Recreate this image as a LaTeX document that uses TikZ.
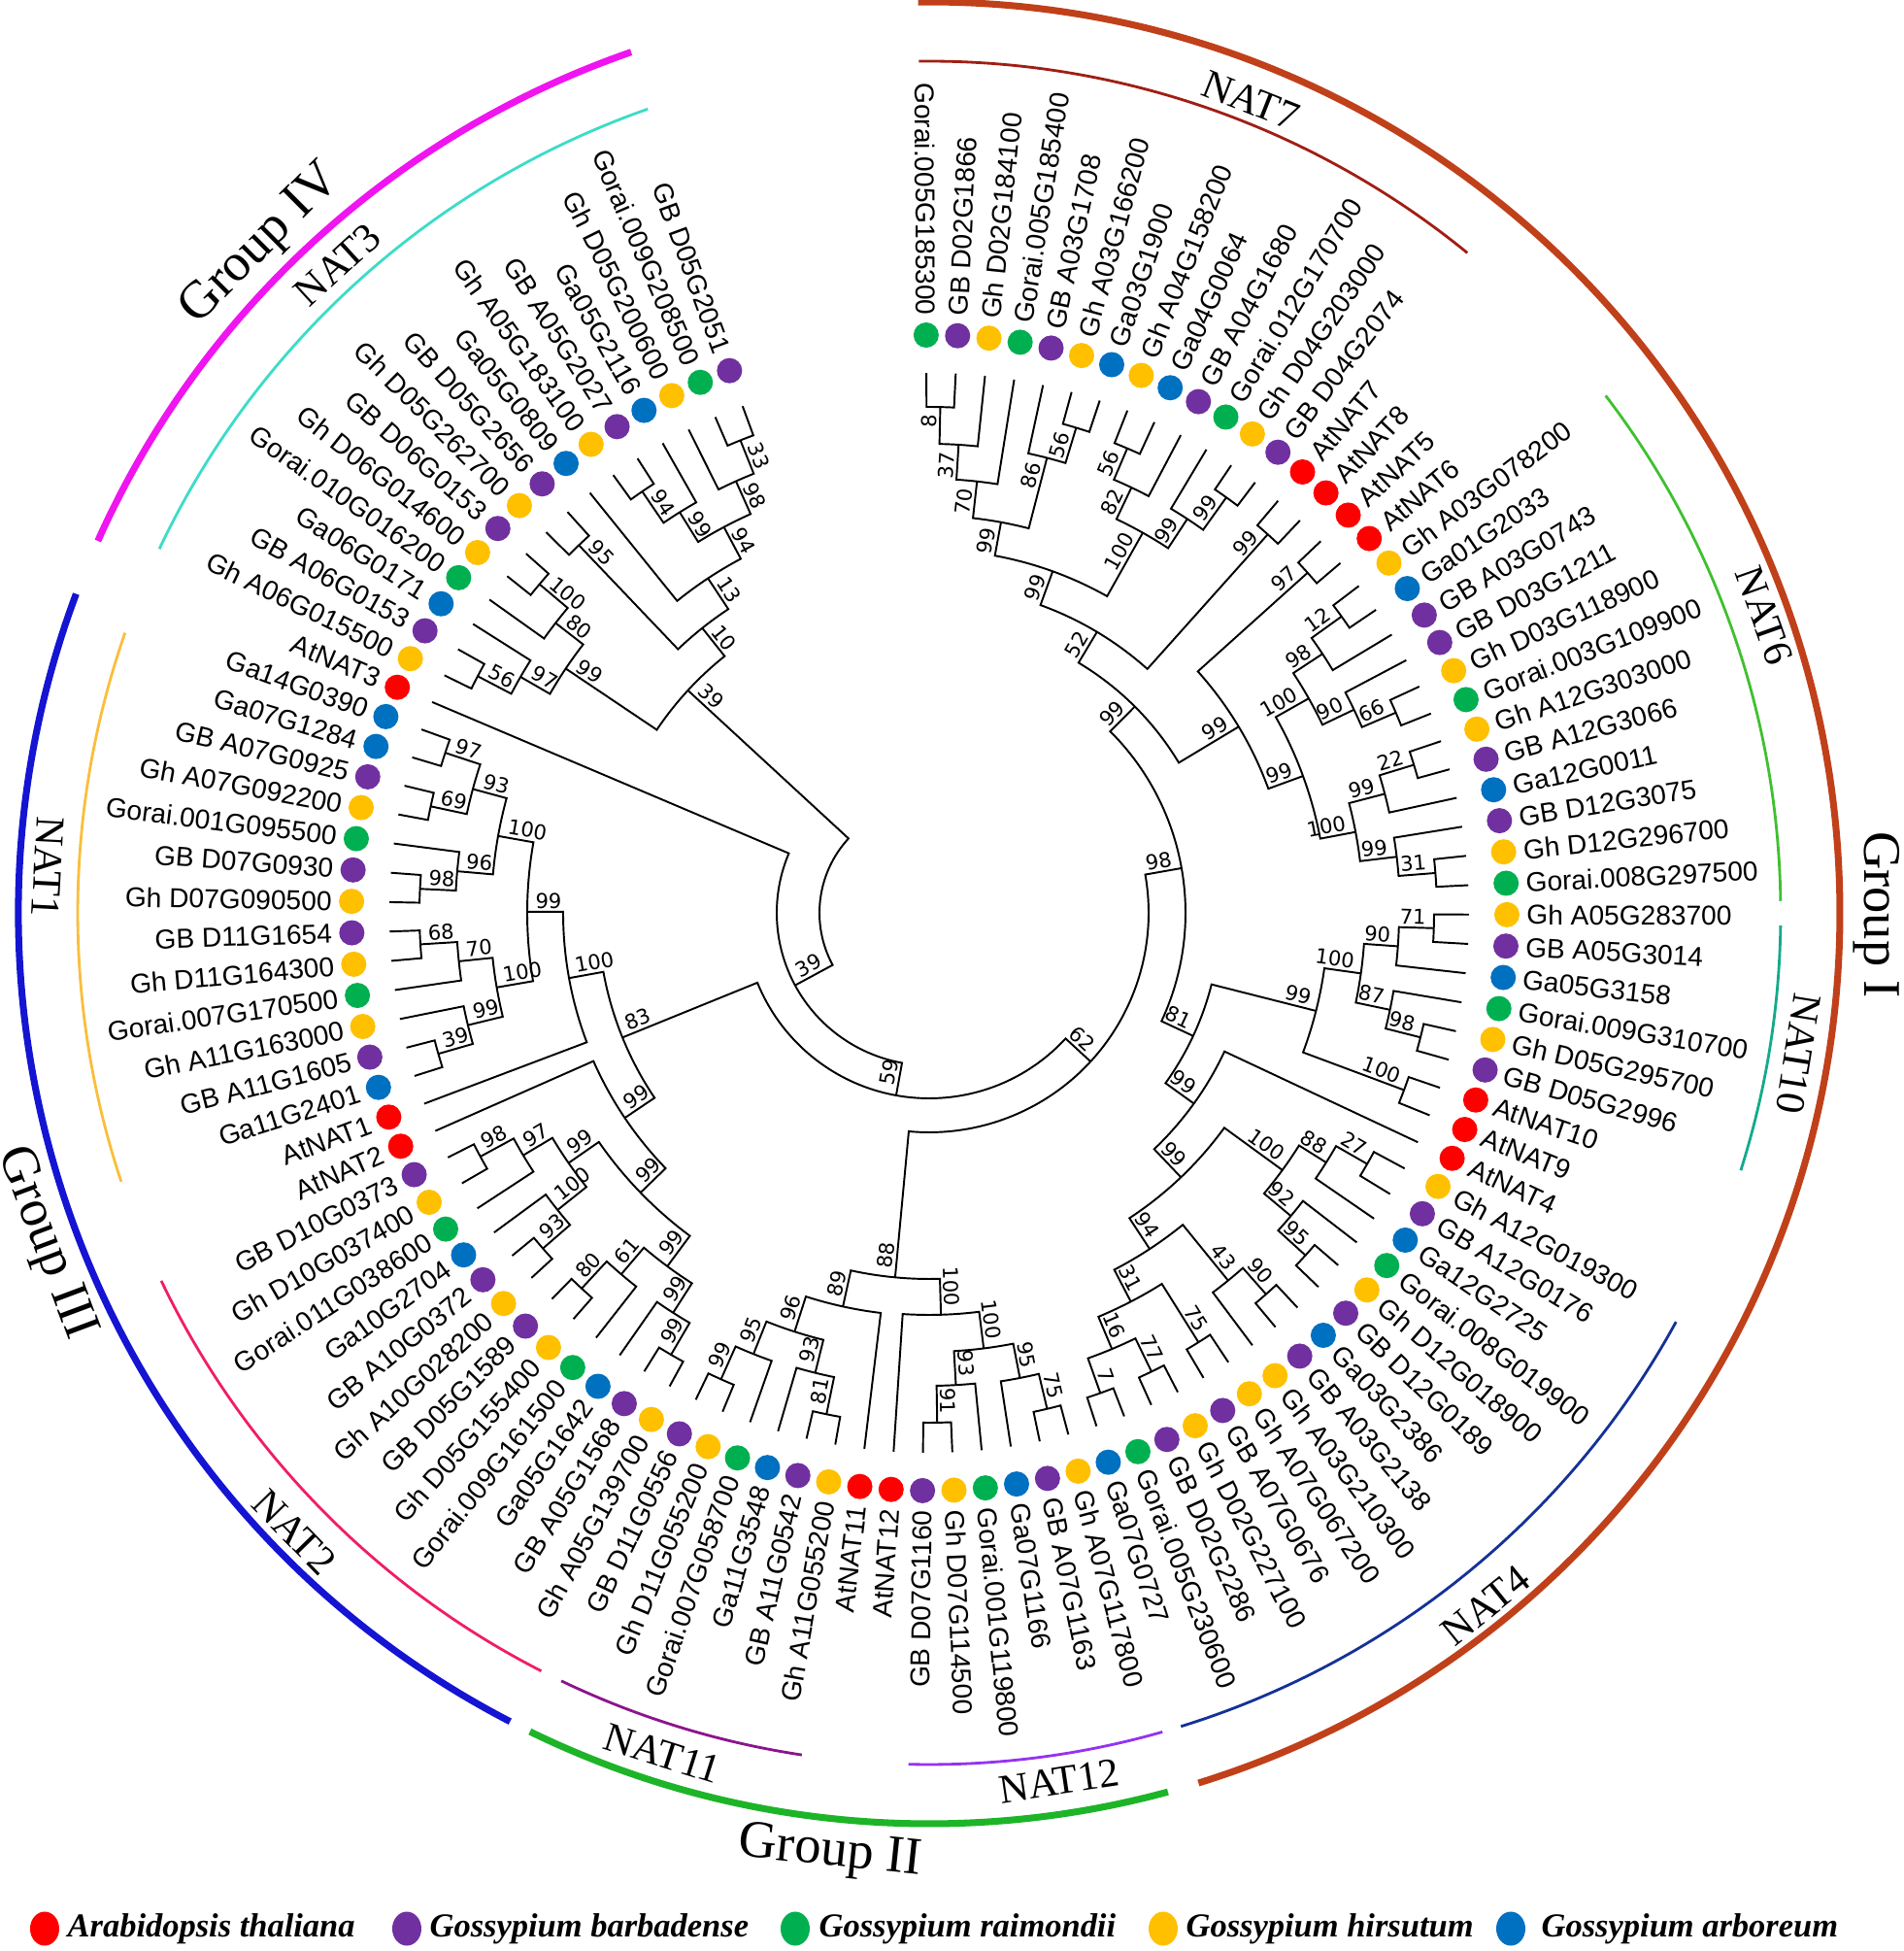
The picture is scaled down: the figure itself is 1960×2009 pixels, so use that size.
\documentclass[tikz,border=0pt]{standalone}
\usepackage{fontspec}
\usepackage{xcolor}
\setmainfont{Liberation Serif}
\setsansfont{Liberation Sans}
\newfontfamily\bootfont{DejaVu Sans}
\usetikzlibrary{shapes.geometric}

% species colours
\definecolor{at}{HTML}{FF0000}
\definecolor{gb}{HTML}{7030A0}
\definecolor{gr}{HTML}{00B050}
\definecolor{gh}{HTML}{FFC000}
\definecolor{ga}{HTML}{0070C0}
% group and subfamily colours
\definecolor{grpone}{HTML}{C0401A}
\definecolor{grptwo}{HTML}{1EB428}
\definecolor{grpthree}{HTML}{1414D2}
\definecolor{grpfour}{HTML}{F014F0}
\definecolor{natseven}{HTML}{A01E14}
\definecolor{natsix}{HTML}{40C030}
\definecolor{natten}{HTML}{14AA8C}
\definecolor{natfour}{HTML}{143296}
\definecolor{nattwelve}{HTML}{9632F0}
\definecolor{nateleven}{HTML}{8C148C}
\definecolor{nattwo}{HTML}{F01E64}
\definecolor{natone}{HTML}{FABE3C}
\definecolor{natthree}{HTML}{3CDCC8}

% a leaf sits at a fixed angle, its branch ends at radius 556
\newcommand{\setleaf}[1]{%
  \pgfmathsetmacro{\leafang}{90.3-3.12*(#1-1)}%
  \expandafter\xdef\csname ang@L#1\endcsname{\leafang}%
  \expandafter\xdef\csname rad@L#1\endcsname{556}}

% clade: name, radius, first child, second child, bootstrap
\newcommand{\clade}[5]{%
  \edef\angA{\csname ang@#3\endcsname}\edef\radA{\csname rad@#3\endcsname}%
  \edef\angB{\csname ang@#4\endcsname}\edef\radB{\csname rad@#4\endcsname}%
  \pgfmathsetmacro{\angM}{(\angA+\angB)/2}%
  \pgfmathsetmacro{\radL}{#2-5}%
  \pgfmathsetmacro{\cosM}{cos(\angM)}%
  \draw[branch] (\angA:\radA) -- (\angA:#2) arc[start angle=\angA, end angle=\angB, radius=#2] -- (\angB:\radB);%
  \ifdim\cosM pt>0pt
    \node[boot, rotate=\angM, anchor=south east] (b#1) at (\angM:\radL) {#5};%
  \else
    \node[boot, rotate=\angM+180, anchor=south west] (b#1) at (\angM:\radL) {#5};%
  \fi
  \expandafter\xdef\csname ang@#1\endcsname{\angM}%
  \expandafter\xdef\csname rad@#1\endcsname{#2}}

\begin{document}
\begin{tikzpicture}[x=0.01cm, y=0.01cm,
    branch/.style={line width=0.55pt},
    boot/.style={font=\bootfont\fontsize{6}{7}\selectfont, inner sep=0.8pt},
    leafdot/.style={circle, inner sep=0pt, minimum size=0.26cm},
    leaflabel/.style={font=\sffamily\fontsize{8}{9}\selectfont, inner sep=0.5pt},
    grouparc/.style={line width=2pt},
    natarc/.style={line width=0.8pt},
    grouplabel/.style={font=\fontsize{15.5}{18}\selectfont, inner sep=0pt},
    natlabel/.style={font=\fontsize{12}{14}\selectfont, inner sep=0pt},
    legdot/.style={ellipse, inner sep=0pt, minimum width=0.30cm, minimum height=0.35cm},
    legtext/.style={font=\bfseries\itshape\fontsize{9.8}{12}\selectfont, inner sep=0pt, anchor=west}]
    \useasboundingbox (-957,-1069) rectangle (1003,940);

    % Leaves: dots and names
    \foreach \i/\nm/\col in {1/Gorai.005G185300/gr, 2/GB D02G1866/gb, 3/Gh D02G184100/gh,
        4/Gorai.005G185400/gr, 5/GB A03G1708/gb, 6/Gh A03G166200/gh, 7/Ga03G1900/ga,
        8/Gh A04G158200/gh, 9/Ga04G0064/ga, 10/GB A04G1680/gb, 11/Gorai.012G170700/gr,
        12/Gh D04G203000/gh, 13/GB D04G2074/gb, 14/AtNAT7/at, 15/AtNAT8/at, 16/AtNAT5/at,
        17/AtNAT6/at, 18/Gh A03G078200/gh, 19/Ga01G2033/ga, 20/GB A03G0743/gb,
        21/GB D03G1211/gb, 22/Gh D03G118900/gh, 23/Gorai.003G109900/gr, 24/Gh A12G303000/gh,
        25/GB A12G3066/gb, 26/Ga12G0011/ga, 27/GB D12G3075/gb, 28/Gh D12G296700/gh,
        29/Gorai.008G297500/gr, 30/Gh A05G283700/gh, 31/GB A05G3014/gb, 32/Ga05G3158/ga,
        33/Gorai.009G310700/gr, 34/Gh D05G295700/gh, 35/GB D05G2996/gb, 36/AtNAT10/at,
        37/AtNAT9/at, 38/AtNAT4/at, 39/Gh A12G019300/gh, 40/GB A12G0176/gb, 41/Ga12G2725/ga,
        42/Gorai.008G019900/gr, 43/Gh D12G018900/gh, 44/GB D12G0189/gb, 45/Ga03G2386/ga,
        46/GB A03G2138/gb, 47/Gh A03G210300/gh, 48/Gh A07G067200/gh, 49/GB A07G0676/gb,
        50/Gh D02G227100/gh, 51/GB D02G2286/gb, 52/Gorai.005G230600/gr, 53/Ga07G0727/ga,
        54/Gh A07G117800/gh, 55/GB A07G1163/gb, 56/Ga07G1166/ga, 57/Gorai.001G119800/gr,
        58/Gh D07G114500/gh, 59/GB D07G1160/gb, 60/AtNAT12/at, 61/AtNAT11/at,
        62/Gh A11G055200/gh, 63/GB A11G0542/gb, 64/Ga11G3548/ga, 65/Gorai.007G058700/gr,
        66/Gh D11G055200/gh, 67/GB D11G0556/gb, 68/Gh A05G139700/gh, 69/GB A05G1568/gb,
        70/Ga05G1642/ga, 71/Gorai.009G161500/gr, 72/Gh D05G155400/gh, 73/GB D05G1589/gb,
        74/Gh A10G028200/gh, 75/GB A10G0372/gb, 76/Ga10G2704/ga, 77/Gorai.011G038600/gr,
        78/Gh D10G037400/gh, 79/GB D10G0373/gb, 80/AtNAT2/at, 81/AtNAT1/at, 82/Ga11G2401/ga,
        83/GB A11G1605/gb, 84/Gh A11G163000/gh, 85/Gorai.007G170500/gr, 86/Gh D11G164300/gh,
        87/GB D11G1654/gb, 88/Gh D07G090500/gh, 89/GB D07G0930/gb, 90/Gorai.001G095500/gr,
        91/Gh A07G092200/gh, 92/GB A07G0925/gb, 93/Ga07G1284/ga, 94/Ga14G0390/ga,
        95/AtNAT3/at, 96/Gh A06G015500/gh, 97/GB A06G0153/gb, 98/Ga06G0171/ga,
        99/Gorai.010G016200/gr, 100/Gh D06G014600/gh, 101/GB D06G0153/gb,
        102/Gh D05G262700/gh, 103/GB D05G2656/gb, 104/Ga05G0809/ga, 105/Gh A05G183100/gh,
        106/GB A05G2027/gb, 107/Ga05G2116/ga, 108/Gh D05G200600/gh,
        109/Gorai.009G208500/gr, 110/GB D05G2051/gb} {
        \setleaf{\i}
        \pgfmathsetmacro{\la}{90.3-3.12*(\i-1)}
        \pgfmathsetmacro{\lc}{cos(\la)}
        \node[leafdot, fill=\col] (dot\i) at (\la:595) {};
        \ifdim\lc pt>0pt
            \node[leaflabel, rotate=\la, anchor=west] (lab\i) at (\la:613) {\nm};
        \else
            \node[leaflabel, rotate=\la+180, anchor=east] (lab\i) at (\la:613) {\nm};
        \fi
    }

    % Group I
    \clade{a8}{521}{L1}{L2}{8}
    \clade{a37}{483}{a8}{L3}{37}
    \clade{a70}{447}{a37}{L4}{70}
    \clade{a56}{522}{L6}{L7}{56}
    \clade{a86}{484}{L5}{a56}{86}
    \clade{a99}{409}{a70}{a86}{99}
    \clade{b56}{520}{L8}{L9}{56}
    \clade{b82}{485}{b56}{L10}{82}
    \clade{b99}{526}{L12}{L13}{99}
    \clade{c99}{485}{L11}{b99}{99}
    \clade{b100}{449}{b82}{c99}{100}
    \clade{d99}{374}{a99}{b100}{99}
    \clade{e99}{523}{L14}{L15}{99}
    \clade{a52}{337}{d99}{e99}{52}
    \clade{a12}{523}{L18}{L19}{12}
    \clade{a98}{485}{a12}{L20}{98}
    \clade{a66}{523}{L22}{L23}{66}
    \clade{a90}{485}{L21}{a66}{90}
    \clade{c100}{449}{a98}{a90}{100}
    \clade{a22}{522}{L24}{L25}{22}
    \clade{f99}{485}{a22}{L26}{99}
    \clade{a31}{523}{L28}{L29}{31}
    \clade{g99}{485}{L27}{a31}{99}
    \clade{d100}{447}{f99}{g99}{100}
    \clade{h99}{410}{c100}{d100}{99}
    \clade{a97}{524}{L16}{L17}{97}
    \clade{i99}{372}{a97}{h99}{99}
    \clade{j99}{300}{a52}{i99}{99}
    \clade{a71}{520}{L30}{L31}{71}
    \clade{b90}{484}{a71}{L32}{90}
    \clade{b98}{522}{L34}{L35}{98}
    \clade{a87}{485}{L33}{b98}{87}
    \clade{e100}{449}{b90}{a87}{100}
    \clade{f100}{522}{L36}{L37}{100}
    \clade{k99}{411}{e100}{f100}{99}
    \clade{a27}{520}{L39}{L40}{27}
    \clade{a88}{483}{a27}{L41}{88}
    \clade{a95}{524}{L43}{L44}{95}
    \clade{a92}{486}{L42}{a95}{92}
    \clade{g100}{450}{a88}{a92}{100}
    \clade{c90}{524}{L45}{L46}{90}
    \clade{a43}{488}{c90}{L47}{43}
    \clade{a75}{522}{L48}{L49}{75}
    \clade{a77}{525}{L50}{L51}{77}
    \clade{a7}{525}{L52}{L53}{7}
    \clade{a16}{487}{a77}{a7}{16}
    \clade{b31}{451}{a75}{a16}{31}
    \clade{a94}{414}{a43}{b31}{94}
    \clade{l99}{376}{g100}{a94}{99}
    \clade{m99}{336}{L38}{l99}{99}
    \clade{a81}{300}{k99}{m99}{81}
    \clade{gone}{264}{j99}{a81}{98}

    % Group II
    \clade{b75}{525}{L54}{L55}{75}
    \clade{b95}{488}{b75}{L56}{95}
    \clade{a91}{525}{L58}{L59}{91}
    \clade{a93}{487}{L57}{a91}{93}
    \clade{h100}{452}{b95}{a93}{100}
    \clade{i100}{414}{h100}{L60}{100}
    \clade{b81}{527}{L62}{L63}{81}
    \clade{b93}{488}{b81}{L64}{93}
    \clade{n99}{526}{L66}{L67}{99}
    \clade{c95}{489}{L65}{n99}{95}
    \clade{a96}{453}{b93}{c95}{96}
    \clade{a89}{415}{L61}{a96}{89}
    \clade{gtwo}{377}{i100}{a89}{88}
    \clade{a62}{226}{gone}{gtwo}{62}

    % Group III
    \clade{a39}{526}{L82}{L83}{39}
    \clade{o99}{489}{a39}{L84}{99}
    \clade{a68}{525}{L86}{L87}{68}
    \clade{b70}{487}{L85}{a68}{70}
    \clade{j100}{452}{o99}{b70}{100}
    \clade{c98}{525}{L88}{L89}{98}
    \clade{b96}{488}{c98}{L90}{96}
    \clade{a69}{525}{L91}{L92}{69}
    \clade{b97}{525}{L93}{L94}{97}
    \clade{c93}{487}{a69}{b97}{93}
    \clade{k100}{451}{b96}{c93}{100}
    \clade{p99}{414}{j100}{k100}{99}
    \clade{l100}{377}{L81}{p99}{100}
    \clade{d98}{526}{L78}{L79}{98}
    \clade{c97}{487}{L77}{d98}{97}
    \clade{d93}{527}{L74}{L75}{93}
    \clade{m100}{490}{L76}{d93}{100}
    \clade{q99}{452}{m100}{c97}{99}
    \clade{r99}{527}{L68}{L69}{99}
    \clade{s99}{489}{r99}{L70}{99}
    \clade{a80}{527}{L72}{L73}{80}
    \clade{a61}{489}{L71}{a80}{61}
    \clade{t99}{453}{s99}{a61}{99}
    \clade{u99}{414}{t99}{q99}{99}
    \clade{v99}{378}{u99}{L80}{99}
    \clade{a83}{341}{v99}{l100}{83}
    \clade{a59}{191}{a62}{a83}{59}
    \clade{c39}{157}{a59}{L95}{39}

    % Group IV
    \clade{c56}{525}{L96}{L97}{56}
    \clade{d97}{486}{c56}{L98}{97}
    \clade{n100}{525}{L100}{L101}{100}
    \clade{c80}{487}{L99}{n100}{80}
    \clade{w99}{451}{d97}{c80}{99}
    \clade{d95}{523}{L102}{L103}{95}
    \clade{b94}{525}{L105}{L106}{94}
    \clade{x99}{486}{b94}{L107}{99}
    \clade{a33}{524}{L109}{L110}{33}
    \clade{e98}{487}{L108}{a33}{98}
    \clade{c94}{450}{x99}{e98}{94}
    \clade{a13}{413}{L104}{c94}{13}
    \clade{a10}{375}{d95}{a13}{10}
    \clade{gfour}{338}{w99}{a10}{39}

    % root
    \clade{root}{113}{c39}{gfour}{}

    % Group arcs
    \draw[grouparc, grpone] (90.7:938) arc[start angle=90.7, end angle=-72.8, radius=938];
    \draw[grouparc, grptwo] (-116:938) arc[start angle=-116, end angle=-74.8, radius=938];
    \draw[grouparc, grpthree] (159.5:938) arc[start angle=159.5, end angle=242.6, radius=938];
    \draw[grouparc, grpfour] (109.1:938) arc[start angle=109.1, end angle=155.9, radius=938];

    % Subfamily arcs
    \draw[natarc, natseven] (90.7:877) arc[start angle=90.7, end angle=50.8, radius=877];
    \draw[natarc, natsix] (37.4:877) arc[start angle=37.4, end angle=0.8, radius=877];
    \draw[natarc, natten] (-0.85:877) arc[start angle=-0.85, end angle=-17.6, radius=877];
    \draw[natarc, natfour] (-28.7:877) arc[start angle=-28.7, end angle=-72.8, radius=877];
    \draw[natarc, nattwelve] (-74.1:877) arc[start angle=-74.1, end angle=-91.4, radius=877];
    \draw[natarc, nateleven] (-98.6:877) arc[start angle=-98.6, end angle=-115.6, radius=877];
    \draw[natarc, nattwo] (-117.1:877) arc[start angle=-117.1, end angle=-154.4, radius=877];
    \draw[natarc, natone] (198.4:877) arc[start angle=198.4, end angle=160.8, radius=877];
    \draw[natarc, natthree] (154.7:877) arc[start angle=154.7, end angle=109.3, radius=877];

    % Group names
    \node[grouplabel, rotate=-90] (gIlab) at (-0.1:976) {Group I};
    \node[grouplabel, rotate=-6] (gIIlab) at (264:974) {Group II};
    \node[grouplabel, rotate=-69.5] (gIIIlab) at (200.5:972) {Group III};
    \node[grouplabel, rotate=45] (gIVlab) at (135:973) {Group IV};

    % Subfamily names
    \node[natlabel, rotate=-21.6] (n7lab) at (68.4:900) {NAT7};
    \node[natlabel, rotate=-70.4] (n6lab) at (19.6:913) {NAT6};
    \node[natlabel, rotate=-99.2] (n10lab) at (-9.2:907) {NAT10};
    \node[natlabel, rotate=38.8] (n4lab) at (-51.2:915) {NAT4};
    \node[natlabel, rotate=8.5] (n12lab) at (278.5:904) {NAT12};
    \node[natlabel, rotate=-17.6] (n11lab) at (252.4:908) {NAT11};
    \node[natlabel, rotate=-45.7] (n2lab) at (224.3:913) {NAT2};
    \node[natlabel, rotate=-93] (n1lab) at (177:909) {NAT1};
    \node[natlabel, rotate=42.4] (n3lab) at (132.4:904) {NAT3};

    % Legend
    \node[legdot, fill=at] (k1) at (-911,-1046) {};
    \node[legtext] (t1) at (-888,-1046) {Arabidopsis thaliana};
    \node[legdot, fill=gb] (k2) at (-538,-1046) {};
    \node[legtext] (t2) at (-515,-1046) {Gossypium barbadense};
    \node[legdot, fill=gr] (k3) at (-138,-1046) {};
    \node[legtext] (t3) at (-114,-1046) {Gossypium raimondii};
    \node[legdot, fill=gh] (k4) at (241,-1046) {};
    \node[legtext] (t4) at (264,-1046) {Gossypium hirsutum};
    \node[legdot, fill=ga] (k5) at (599,-1046) {};
    \node[legtext] (t5) at (630,-1046) {Gossypium arboreum};
\end{tikzpicture}
\end{document}
